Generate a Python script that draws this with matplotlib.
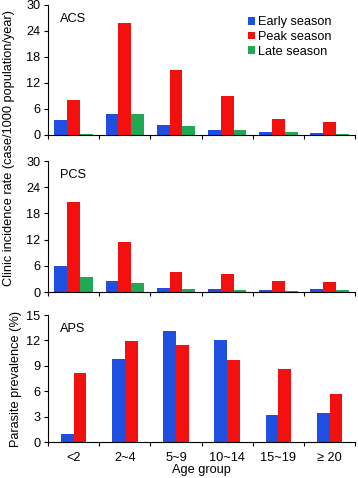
import numpy as np
import matplotlib.pyplot as plt

age_groups = ['<2', '2~4', '5~9', '10~14', '15~19', '\u2265 20']

acs_early = [3.4, 4.8, 2.2, 1.2, 0.8, 0.5]
acs_peak = [8.1, 25.8, 14.9, 8.9, 3.7, 3.0]
acs_late = [0.3, 4.8, 2.1, 1.2, 0.8, 0.3]

pcs_early = [5.9, 2.5, 1.0, 0.7, 0.5, 0.7]
pcs_peak = [20.7, 11.5, 4.7, 4.2, 2.6, 2.3]
pcs_late = [3.5, 2.0, 0.7, 0.4, 0.2, 0.4]

aps_early = [1.0, 9.8, 13.1, 12.1, 3.2, 3.4]
aps_peak = [8.1, 11.9, 11.4, 9.7, 8.6, 5.7]

blue = '#1f4fe0'
red = '#f51010'
green = '#20a855'

plt.rcParams['font.family'] = ['Liberation Sans', 'DejaVu Sans']
fs = 9.2

fig = plt.figure(figsize=(3.58, 4.78), dpi=100)
left, width = 0.134, 0.858
ax1 = fig.add_axes([left, 0.7176, width, 0.272])
ax2 = fig.add_axes([left, 0.389, width, 0.274])
ax3 = fig.add_axes([left, 0.0753, width, 0.2657])

x = np.arange(len(age_groups))
w = 0.25


def style(ax, top, step, label):
    ax.set_xlim(-0.5, len(age_groups) - 0.5)
    ax.set_ylim(0, top)
    ax.set_yticks(np.arange(0, top + 0.1, step))
    ax.set_xticks(np.arange(-0.5, len(age_groups), 1.0))
    ax.set_xticklabels([])
    ax.spines['top'].set_visible(False)
    ax.spines['right'].set_visible(False)
    ax.tick_params(axis='both', direction='out', length=3, labelsize=fs, width=0.8, pad=2.5)
    ax.text(0.04, 0.94, label, transform=ax.transAxes, fontsize=fs, va='top')


ax1.bar(x - w, acs_early, w, color=blue, label='Early season')
ax1.bar(x, acs_peak, w, color=red, label='Peak season')
ax1.bar(x + w, acs_late, w, color=green, label='Late season')
style(ax1, 30, 6, 'ACS')
ax1.legend(loc='upper right', bbox_to_anchor=(0.96, 1.0), frameon=False, fontsize=fs,
           handlelength=0.55, handleheight=0.55, handletextpad=0.25, labelspacing=0.2)

ax2.bar(x - w, pcs_early, w, color=blue)
ax2.bar(x, pcs_peak, w, color=red)
ax2.bar(x + w, pcs_late, w, color=green)
style(ax2, 30, 6, 'PCS')

ax3.bar(x - w / 2, aps_early, w, color=blue)
ax3.bar(x + w / 2, aps_peak, w, color=red)
style(ax3, 15, 3, 'APS')
ax3.set_xticks(x, minor=True)
ax3.set_xticklabels(age_groups, minor=True)
ax3.tick_params(axis='x', which='minor', length=0, labelsize=fs, pad=7)
ax3.set_xlabel('Age group', fontsize=fs, labelpad=0)
ax3.set_ylabel('Parasite prevalence (%)', fontsize=fs, labelpad=3)

fig.text(0.025, 0.69, 'Clinic incidence rate (case/1000 population/year)',
         rotation=90, va='center', ha='center', fontsize=fs)

fig.savefig('out.png', dpi=100)
